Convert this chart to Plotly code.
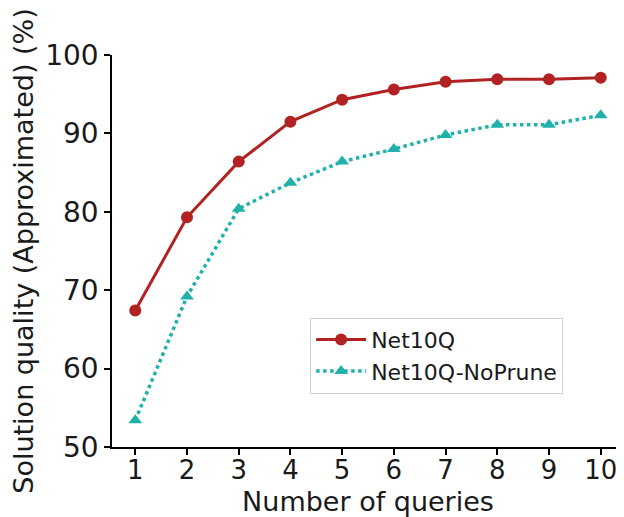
import plotly.graph_objects as go

queries = [1, 2, 3, 4, 5, 6, 7, 8, 9, 10]
net10q = [67.4, 79.3, 86.4, 91.5, 94.3, 95.6, 96.6, 96.9, 96.9, 97.1]
net10q_noprune = [53.4, 69.2, 80.4, 83.7, 86.4, 88.0, 89.8, 91.1, 91.1, 92.3]
y_ticks = [50, 60, 70, 80, 90, 100]

fig = go.Figure()
fig.add_trace(go.Scatter(
    x=queries, y=net10q, name="Net10Q", mode="lines+markers",
    line=dict(color="#b22222", width=3),
    marker=dict(symbol="circle", size=12, color="#b22222"),
))
fig.add_trace(go.Scatter(
    x=queries, y=net10q_noprune, name="Net10Q-NoPrune", mode="lines+markers",
    line=dict(color="#20b2aa", width=3.5, dash="dot"),
    marker=dict(symbol="triangle-up", size=12, color="#20b2aa"),
))

font_family = "DejaVu Sans"
fig.update_layout(
    width=616, height=509,
    margin=dict(l=104, r=0, t=47, b=70),
    plot_bgcolor="white", paper_bgcolor="white",
    font=dict(family=font_family, color="#1a1a1a"),
    showlegend=True,
    legend=dict(
        x=0.387, y=0.33, xanchor="left", yanchor="top",
        bgcolor="white", bordercolor="#d0d0d0", borderwidth=1,
        font=dict(size=22, family=font_family),
        itemwidth=50,
    ),
    xaxis=dict(
        range=[0.55, 10.45], tickmode="array", tickvals=queries,
        ticktext=[str(q) for q in queries],
        showgrid=False, zeroline=False,
        showline=True, linecolor="black", linewidth=1.5,
        ticks="outside", ticklen=6, tickwidth=1.5, tickcolor="black",
        tickfont=dict(size=26), ticklabelstandoff=-7,
        title=dict(text="Number of queries", font=dict(size=27), standoff=9),
    ),
    yaxis=dict(
        range=[50, 100], tickmode="array", tickvals=y_ticks,
        showgrid=False, zeroline=False,
        showline=True, linecolor="black", linewidth=1.5,
        ticks="outside", ticklen=6, tickwidth=1.5, tickcolor="black",
        tickfont=dict(size=28),
        title=dict(text="Solution quality (Approximated) (%)", font=dict(size=27), standoff=8),
    ),
)

fig.write_html("out.html")
